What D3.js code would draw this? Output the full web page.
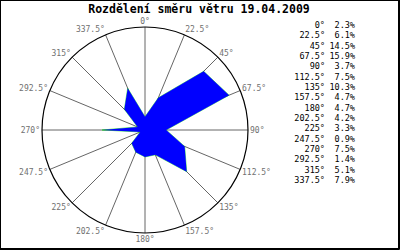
<!DOCTYPE html>
<html>
<head>
<meta charset="utf-8">
<script src="https://cdn.jsdelivr.net/npm/d3@7"></script>
<style>
  body { margin: 0; background: #fff; }
  text { font-family: "DejaVu Sans Mono", monospace; }
</style>
</head>
<body>
<div id="vis"></div>
<script>
// smery vetru a jejich podil v %
let directions = [0, 22.5, 45, 67.5, 90, 112.5, 135, 157.5, 180, 202.5, 225, 247.5, 270, 292.5, 315, 337.5]
let percents = [2.3, 6.1, 14.5, 15.9, 3.7, 7.5, 10.3, 4.7, 4.7, 4.2, 3.3, 0.9, 7.5, 1.4, 5.1, 7.9]
let title = 'Rozdělení směru větru 19.04.2009'

let width = 400,
  height = 250
let cx = 145, cy = 130, radius = 103

let svg = d3.select('#vis')
  .append('svg')
  .attr('width', width)
  .attr('height', height)

// ramecek
svg.append('rect')
  .attr('x', 0.5).attr('y', 0.5)
  .attr('width', 398).attr('height', 248)
  .attr('fill', 'white')
  .attr('stroke', 'black')
svg.append('path')
  .attr('d', `M399.5,0V249.5H0`)
  .attr('fill', 'none')
  .attr('stroke', 'black')

svg.append('text')
  .attr('x', 199)
  .attr('y', 13)
  .attr('text-anchor', 'middle')
  .style('font-size', '11.5px')
  .style('font-weight', 'bold')
  .text(title)

let r = d3.scaleLinear()
  .domain([0, 18])
  .range([0, radius])

let g = svg.append('g')
  .attr('transform', `translate(${cx},${cy})`)

let rad = a => a * Math.PI / 180

// paprsky
g.selectAll('.spoke')
  .data(directions)
  .join('line')
  .attr('x1', 0).attr('y1', 0)
  .attr('x2', d => radius * Math.sin(rad(d)))
  .attr('y2', d => -radius * Math.cos(rad(d)))
  .attr('stroke', '#666')
  .attr('stroke-width', 1)

g.append('circle')
  .attr('r', radius)
  .attr('fill', 'none')
  .attr('stroke', 'black')
  .attr('stroke-width', 1.2)

// popisky uhlu
g.selectAll('.lbl')
  .data(directions)
  .join('text')
  .attr('x', d => (radius + 2) * Math.sin(rad(d)))
  .attr('y', d => -(radius + 2) * Math.cos(rad(d)) - 4 * Math.cos(rad(d)) + 3)
  .attr('text-anchor', d => {
    let s = Math.sin(rad(d))
    return s > 0.01 ? 'start' : (s < -0.01 ? 'end' : 'middle')
  })
  .style('font-size', '8px')
  .attr('fill', '#707070')
  .text(d => d + '°')

let line = d3.lineRadial()
  .angle((d, i) => rad(directions[i]))
  .radius(d => r(d))
  .curve(d3.curveLinearClosed)

g.append('path')
  .attr('d', line(percents))
  .attr('fill', 'none')
  .attr('stroke', '#00dd00')
  .attr('stroke-width', 0.6)

g.append('path')
  .attr('d', line(percents))
  .attr('fill', '#0000ff')

// legenda
let leg = svg.append('g')
leg.selectAll('.dir')
  .data(directions)
  .join('text')
  .attr('x', 325)
  .attr('y', (d, i) => 28 + i * 10.33)
  .attr('text-anchor', 'end')
  .style('font-size', '8.5px')
  .text(d => d + '°')
leg.selectAll('.pct')
  .data(percents)
  .join('text')
  .attr('x', 355)
  .attr('y', (d, i) => 28 + i * 10.33)
  .attr('text-anchor', 'end')
  .style('font-size', '8.5px')
  .text(d => d.toFixed(1) + '%')
</script>
</body>
</html>
